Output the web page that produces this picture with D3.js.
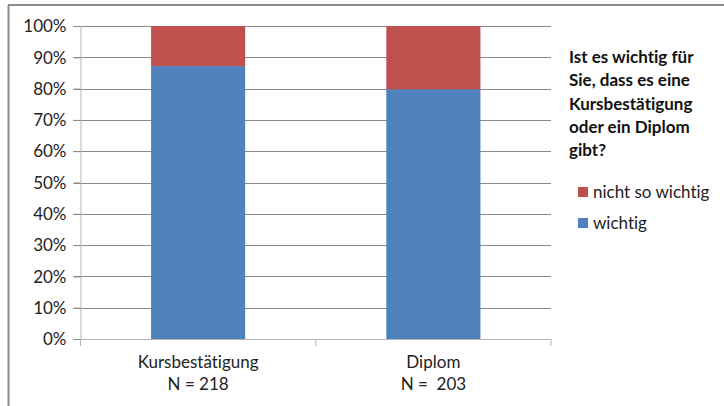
<!DOCTYPE html>
<html><head><meta charset="utf-8">
<script src="https://cdn.jsdelivr.net/npm/d3@7"></script>
<style>body{margin:0;background:#fff}svg{display:block}text{font-family:Lato,"Open Sans",sans-serif;white-space:pre;font-variant-ligatures:none;font-feature-settings:"liga" 0,"dlig" 0}</style>
</head><body><svg id="c" width="724" height="406"></svg>
<script>
const categories = ["Kursbestätigung", "Diplom"];
const nLabels = ["N = 218", "N =  203"];
const wichtig = [87.2, 79.8];
const nichtSoWichtig = [12.8, 20.2];
const seriesNames = ["wichtig", "nicht so wichtig"];
const colors = ["#4F81BD", "#C0504D"];
const yTicks = [0,10,20,30,40,50,60,70,80,90,100];
const titleLines = ["Ist es wichtig für", "Sie, dass es eine", "Kursbestätigung", "oder ein Diplom", "gibt?"];

const FS = 17;
const svg = d3.select("#c");
// frame
svg.append("line").attr("x1",8.5).attr("x2",8.5).attr("y1",5).attr("y2",406).attr("stroke","#8c8c8c").attr("stroke-width",2);
svg.append("line").attr("x1",8).attr("x2",724).attr("y1",5).attr("y2",5).attr("stroke","#8c8c8c").attr("stroke-width",2);

const L=80.5, R=551, T=26, B=339;
const x = d3.scaleBand().domain(categories).range([L,R]).paddingInner(0.6).paddingOuter(0.3);
const xb = d3.scaleBand().domain(categories).range([L,R]);
const y = d3.scaleLinear().domain([0,100]).range([B,T]);

// gridlines
svg.append("g").selectAll("line").data(yTicks.filter(d=>d>0)).join("line")
  .attr("x1",L-7).attr("x2",R).attr("y1",d=>Math.round(y(d))+0.5).attr("y2",d=>Math.round(y(d))+0.5)
  .attr("stroke","#8a8a8a").attr("stroke-width",1);

// stacked bars
const rows = categories.map((c,i)=>({cat:c, wichtig:wichtig[i], nicht:nichtSoWichtig[i]}));
const stack = d3.stack().keys(["wichtig","nicht"])(rows);
svg.append("g").selectAll("g").data(stack).join("g").attr("fill",(d,i)=>colors[i])
  .selectAll("rect").data(d=>d).join("rect")
  .attr("x",d=>x(d.data.cat)).attr("width",x.bandwidth())
  .attr("y",d=>y(Math.min(100,d[1]))).attr("height",d=>y(d[0])-y(Math.min(100,d[1])));

// y axis
const ya = d3.axisLeft(y).tickValues(yTicks).tickFormat(d=>d+"%").tickSize(7).tickPadding(7);
const yg = svg.append("g").attr("transform",`translate(${L},0)`).call(ya);
yg.select(".domain").attr("stroke","#b4b4b4");
yg.selectAll(".tick line").attr("stroke","#8a8a8a");
yg.selectAll("text").attr("font-size",FS).attr("fill","#222").attr("dy","0.34em");

// x axis
const xa = d3.axisBottom(xb).tickSize(0).tickFormat("");
const xg = svg.append("g").attr("transform",`translate(0,${B+0.5})`).call(xa);
xg.select(".domain").attr("stroke","#b4b4b4").attr("d",`M${L},0H${R}`);
svg.append("g").selectAll("line").data([L, ...categories.map(c=>xb(c)+xb.bandwidth())]).join("line")
  .attr("x1",d=>d).attr("x2",d=>d).attr("y1",B).attr("y2",B+7).attr("stroke","#b4b4b4");
const lab = svg.append("g").selectAll("text").data(categories).join("text")
  .attr("x",d=>xb(d)+xb.bandwidth()/2).attr("text-anchor","middle").attr("font-size",FS).attr("fill","#222");
lab.append("tspan").attr("x",d=>xb(d)+xb.bandwidth()/2).attr("y",368).text(d=>d);
lab.append("tspan").attr("x",d=>xb(d)+xb.bandwidth()/2).attr("y",390).text((d,i)=>nLabels[i]);

// title
svg.append("g").selectAll("text").data(titleLines).join("text")
  .attr("x",569).attr("y",(d,i)=>63+i*23.3).attr("font-size",FS).attr("font-weight","bold").attr("fill","#111").text(d=>d);

// legend
const leg = [{name:seriesNames[1], color:colors[1], y:192},{name:seriesNames[0], color:colors[0], y:223}];
const lg = svg.append("g").selectAll("g").data(leg).join("g").attr("transform",d=>`translate(578,${d.y})`);
lg.append("rect").attr("x",0).attr("y",-5).attr("width",10).attr("height",10).attr("fill",d=>d.color);
lg.append("text").attr("x",15).attr("y",0).attr("dy","0.35em").attr("font-size",FS).attr("fill","#222").text(d=>d.name);
</script></body></html>
